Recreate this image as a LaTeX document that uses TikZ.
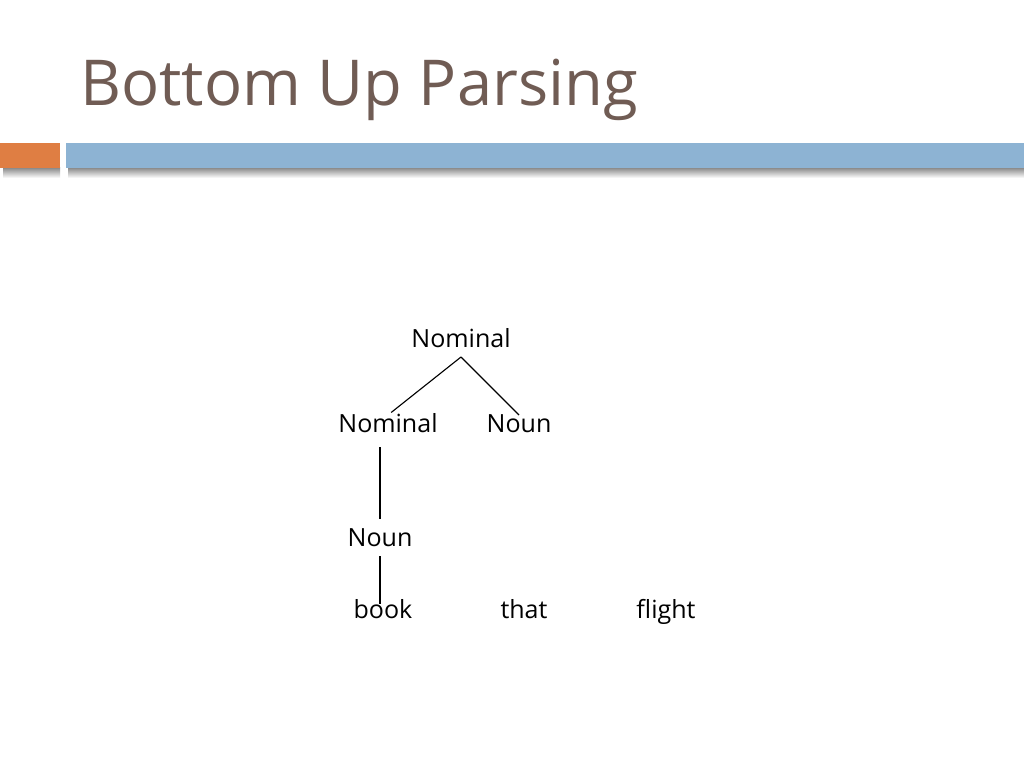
\documentclass[tikz,border=0pt]{standalone}
\usepackage{fontspec}
\setmainfont{Open Sans}
\usetikzlibrary{calc}

\definecolor{titlebrown}{HTML}{705C54}
\definecolor{barorange}{HTML}{DF7E43}
\definecolor{barblue}{HTML}{8DB3D3}

\begin{document}
\begin{tikzpicture}[x=0.025cm, y=-0.025cm,
  cat/.style={font=\fontsize{17.8}{20}\selectfont, inner sep=0pt, outer sep=0pt,
    text height=0.425cm, text depth=0.25cm, anchor=base},
  branch/.style={line width=0.8pt}]

% Page
\useasboundingbox[fill=white] (0,0) rectangle (1024,768);

% Title
\node[anchor=base west, inner sep=0pt, text=titlebrown,
  font=\fontsize{45}{52}\selectfont] (title) at (80,106) {Bottom Up Parsing};

% Header bar with its shadow
\shade[top color=black!45, bottom color=white] (3,168) rectangle (60,178);
\shade[top color=black!45, bottom color=white] (68,168) rectangle (1024,178);
\fill[barorange] (0,143) rectangle (60,168);
\fill[barblue] (66,143) rectangle (1024,168);

% Define the positions (baselines)
\coordinate (pTop) at (461,347);
\coordinate (pNomL) at (388,432);
\coordinate (pNounR) at (519,432);
\coordinate (pNounL) at (380,546);
\coordinate (pBook) at (383,618);
\coordinate (pThat) at (524,618);
\coordinate (pFlight) at (666,618);

% Categories
\node[cat] (nomTop) at (pTop) {Nominal};
\node[cat] (nomL) at (pNomL) {Nominal};
\node[cat] (nounR) at (pNounR) {Noun};
\node[cat] (nounL) at (pNounL) {Noun};

% Words
\node[cat] (book) at (pBook) {book};
\node[cat] (that) at (pThat) {that};
\node[cat] (flight) at (pFlight) {flight};

% Branches
\draw[branch, shorten >=0.1cm] (nomTop.south) -- (nomL.north);
\draw[branch] (nomTop.south) -- (nounR.north);
\draw[branch, shorten <=0.125cm, shorten >=0.25cm] (nomL.south -| nounL) -- (nounL.north);
\draw[branch, shorten >=-0.075cm] (nounL.south) -- (book.north -| nounL);

\end{tikzpicture}
\end{document}
